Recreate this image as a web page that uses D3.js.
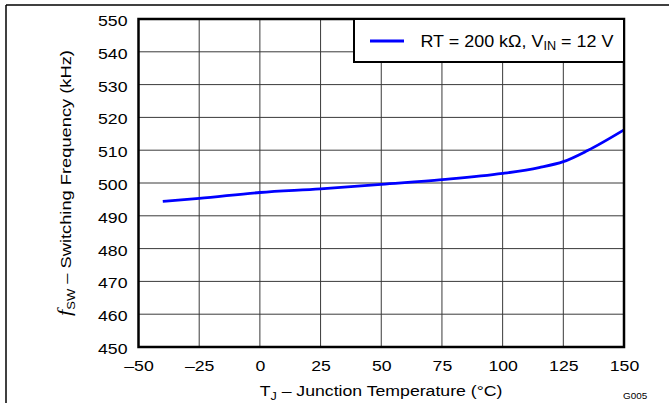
<!DOCTYPE html>
<html lang="en">
	<head>
		<meta charset="utf-8">
		<title>fsw vs temperature</title>
		<script src="https://d3js.org/d3.v7.min.js"></script>
		<style>
			body { margin: 0; background: #ffffff; }
			text { font-family: "Liberation Sans", Arial, sans-serif; fill: #000000; }
			.grid line { stroke: #3a3a3a; stroke-width: 1px; }
		</style>
	</head>
	<body>
		<div id="chart1"></div>
		<script type="text/javascript">

			// data
			var temps = [-40, -25, 0, 25, 50, 75, 100, 115, 125, 135, 150];
			var freqs = [494.4, 495.3, 497.1, 498.2, 499.6, 501.0, 502.9, 504.7, 506.5, 509.9, 516.2];

			// tick values
			var xTicks = [-50, -25, 0, 25, 50, 75, 100, 125, 150];
			var yTicks = [450, 460, 470, 480, 490, 500, 510, 520, 530, 540, 550];

			var W = 669, H = 403;
			var margin = {top: 19, right: 45, bottom: 56, left: 138.5},
				width = W - margin.left - margin.right,
				height = H - margin.top - margin.bottom;

			// horizontal stretch of the text (reference font is wider than Arial)
			var sx = 1.14;

			var svg = d3.select("#chart1")
				.append("svg")
				.attr("width", W)
				.attr("height", H);

			// page border lines (top and left)
			svg.append("line")
				.attr("x1", 6).attr("x2", W).attr("y1", 5).attr("y2", 5)
				.attr("stroke", "#000").attr("stroke-width", 1.5);
			svg.append("line")
				.attr("x1", 6).attr("x2", 6).attr("y1", 5).attr("y2", H)
				.attr("stroke", "#000").attr("stroke-width", 1.5);

			var g = svg.append("g")
				.attr("transform", "translate(" + margin.left + "," + margin.top + ")");

			var x = d3.scaleLinear().domain([-50, 150]).range([0, width]);
			var y = d3.scaleLinear().domain([450, 550]).range([height, 0]);

			// grid
			var grid = g.append("g").attr("class", "grid");
			grid.selectAll("line.v")
				.data(xTicks)
				.enter()
				.append("line")
				.attr("class", "v")
				.attr("x1", function(d) { return x(d); })
				.attr("x2", function(d) { return x(d); })
				.attr("y1", 0)
				.attr("y2", height);
			grid.selectAll("line.h")
				.data(yTicks)
				.enter()
				.append("line")
				.attr("class", "h")
				.attr("x1", 0)
				.attr("x2", width)
				.attr("y1", function(d) { return y(d); })
				.attr("y2", function(d) { return y(d); });

			// x axis labels
			var xAxis = g.append("g")
				.attr("transform", "translate(0," + height + ")")
				.call(d3.axisBottom(x).tickValues(xTicks).tickSize(0).tickPadding(12.5)
					.tickFormat(function(d) { return d < 0 ? "\u2013" + Math.abs(d) : d; }));
			xAxis.select(".domain").remove();
			xAxis.selectAll("text")
				.attr("font-size", "15.5px")
				.attr("font-family", null)
				.attr("transform", "scale(" + sx + ",1)");

			// y axis labels
			var yAxis = g.append("g")
				.call(d3.axisLeft(y).tickValues(yTicks).tickSize(0).tickPadding(11));
			yAxis.select(".domain").remove();
			yAxis.selectAll("text")
				.attr("font-size", "15.5px")
				.attr("font-family", null)
				.attr("x", -11 / sx)
				.attr("dy", "0.42em")
				.attr("transform", "scale(" + sx + ",1)");
			svg.selectAll(".tick text").style("fill", "#000");

			// curve
			var line = d3.line()
				.x(function(d) { return x(d[0]); })
				.y(function(d) { return y(d[1]); })
				.curve(d3.curveMonotoneX);

			g.append("path")
				.datum(d3.zip(temps, freqs))
				.attr("fill", "none")
				.attr("stroke", "#0000ff")
				.attr("stroke-width", 2.8)
				.attr("d", line);

			// plot frame
			g.append("rect")
				.attr("width", width)
				.attr("height", height)
				.attr("fill", "none")
				.attr("stroke", "#000")
				.attr("stroke-width", 2.5);

			// legend
			var legend = svg.append("g");
			legend.append("rect")
				.attr("x", 354)
				.attr("y", margin.top)
				.attr("width", margin.left + width - 354)
				.attr("height", 43)
				.attr("fill", "#fff")
				.attr("stroke", "#000")
				.attr("stroke-width", 2);
			legend.append("line")
				.attr("x1", 370).attr("x2", 404)
				.attr("y1", 41).attr("y2", 41)
				.attr("stroke", "#0000ff")
				.attr("stroke-width", 2.8);
			var lt = legend.append("text")
				.attr("transform", "translate(420.5,47.3) scale(1.055,1)")
				.attr("font-size", "17px");
			lt.append("tspan").text("RT = 200 k\u03A9, V");
			lt.append("tspan").attr("font-size", "12px").attr("dy", 3).text("IN");
			lt.append("tspan").attr("dy", -3).text(" = 12 V");

			// x axis title
			var xt = svg.append("text")
				.attr("transform", "translate(381,396) scale(" + sx + ",1)")
				.attr("text-anchor", "middle")
				.attr("font-size", "15.5px");
			xt.append("tspan").text("T");
			xt.append("tspan").attr("font-size", "11px").attr("dy", 4).text("J");
			xt.append("tspan").attr("dy", -4).text(" \u2013 Junction Temperature (\u00B0C)");

			// y axis title
			var yt = svg.append("text")
				.attr("transform", "translate(71," + (margin.top + height / 2) + ") rotate(-90) scale(1.18,1)")
				.attr("text-anchor", "middle")
				.attr("font-size", "15.5px");
			yt.append("tspan")
				.attr("font-family", "'Liberation Serif', serif")
				.attr("font-style", "italic")
				.attr("font-size", "19px")
				.text("f");
			yt.append("tspan").attr("font-size", "11px").attr("dy", 4).text("SW");
			yt.append("tspan").attr("dy", -4).text(" \u2013 Switching Frequency (kHz)");

			// figure id
			svg.append("text")
				.attr("transform", "translate(623,399) scale(1.1,1)")
				.attr("font-size", "9px")
				.text("G005");

		</script>
	</body>
</html>
